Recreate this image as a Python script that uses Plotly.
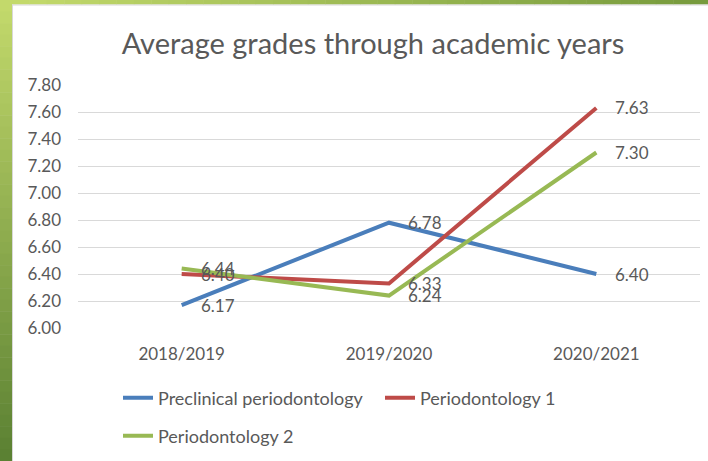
import plotly.graph_objects as go

years = ["2018/2019", "2019/2020", "2020/2021"]
preclinical = [6.17, 6.78, 6.40]
perio1 = [6.40, 6.33, 7.63]
perio2 = [6.44, 6.24, 7.30]
series_names = ["Preclinical periodontology", "Periodontology 1", "Periodontology 2"]
y_ticks = [6.0, 6.2, 6.4, 6.6, 6.8, 7.0, 7.2, 7.4, 7.6, 7.8]

colors = ["#4A7EBB", "#BE4B48", "#98B954"]
FONT = "Lato"
TXT = "#595959"
W, H = 708, 461
L, R, T, B = 78, 8, 85, 133
PW, PH = W - L - R, H - T - B

def px_x(p):
    return (p - L) / PW

def px_y(p):
    return (H - B - p) / PH

fig = go.Figure()
all_series = [preclinical, perio1, perio2]
legends = ["legend", "legend", "legend2"]
for name, vals, c, lg in zip(series_names, all_series, colors, legends):
    fig.add_trace(go.Scatter(x=years, y=vals, mode="lines", name=name,
                             line=dict(color=c, width=4), legend=lg))

annotations = []
for vals in all_series:
    for x, v in zip(years, vals):
        annotations.append(dict(x=x, y=v, text=f"{v:.2f}", showarrow=False,
                                xanchor="left", yanchor="middle", xshift=17,
                                font=dict(family=FONT, size=17, color=TXT)))

shapes = []
n = 40
def lerp(c1, c2, t):
    return "rgb(%d,%d,%d)" % tuple(round(a + (b - a) * t) for a, b in zip(c1, c2))
top_c = (196, 218, 108)
bot_c = (90, 128, 50)
right_c = (118, 154, 60)
for i in range(n):
    y0 = i * H / n
    y1 = (i + 1) * H / n + 0.5
    shapes.append(dict(type="rect", xref="paper", yref="paper",
                       x0=px_x(0), x1=px_x(12), y0=px_y(y0), y1=px_y(y1),
                       fillcolor=lerp(top_c, bot_c, (i + 0.5) / n), line=dict(width=0), layer="above"))
for i in range(n):
    x0 = 12 + i * (W - 12) / n
    x1 = 12 + (i + 1) * (W - 12) / n + 0.5
    shapes.append(dict(type="rect", xref="paper", yref="paper",
                       x0=px_x(x0), x1=px_x(x1), y0=px_y(0), y1=px_y(4.5),
                       fillcolor=lerp(top_c, right_c, (i + 0.5) / n), line=dict(width=0), layer="above"))
shapes.append(dict(type="line", xref="paper", yref="paper", x0=px_x(12.5), x1=px_x(12.5),
                   y0=px_y(4.5), y1=px_y(H), line=dict(color="#d8d8d8", width=1)))
shapes.append(dict(type="line", xref="paper", yref="paper", x0=px_x(12), x1=px_x(W),
                   y0=px_y(5), y1=px_y(5), line=dict(color="#d8d8d8", width=1)))

fig.update_layout(
    width=W, height=H,
    margin=dict(l=L, r=R, t=T, b=B),
    paper_bgcolor="white", plot_bgcolor="white",
    title=dict(text="Average grades through academic years", x=373 / W, xanchor="center",
               y=1 - 44 / H, yanchor="middle", xref="container", yref="container",
               font=dict(family=FONT, size=29, color=TXT)),
    xaxis=dict(showgrid=False, showline=False, zeroline=False, ticks="",
               tickfont=dict(family=FONT, size=17, color=TXT),
               ticklabelstandoff=14, range=[-0.5, 2.5]),
    yaxis=dict(range=[6.0, 7.8], tickvals=y_ticks, tickformat=".2f",
               showgrid=True, gridcolor="#D9D9D9", gridwidth=1, zeroline=False,
               showline=False, ticks="", ticklabelstandoff=16,
               tickfont=dict(family=FONT, size=17, color=TXT)),
    legend=dict(orientation="h", x=118 / W, xref="container", xanchor="left",
                y=1 - 398 / H, yref="container", yanchor="middle",
                entrywidth=217, font=dict(family=FONT, size=18, color=TXT),
                bgcolor="rgba(0,0,0,0)"),
    legend2=dict(orientation="h", x=118 / W, xref="container", xanchor="left",
                 y=1 - 436 / H, yref="container", yanchor="middle",
                 font=dict(family=FONT, size=18, color=TXT),
                 bgcolor="rgba(0,0,0,0)"),
    annotations=annotations,
    shapes=shapes,
    showlegend=True,
)

fig.write_html("out.html", config={"displayModeBar": False},
               post_script="document.body.style.margin='0';document.body.style.overflow='hidden';")
